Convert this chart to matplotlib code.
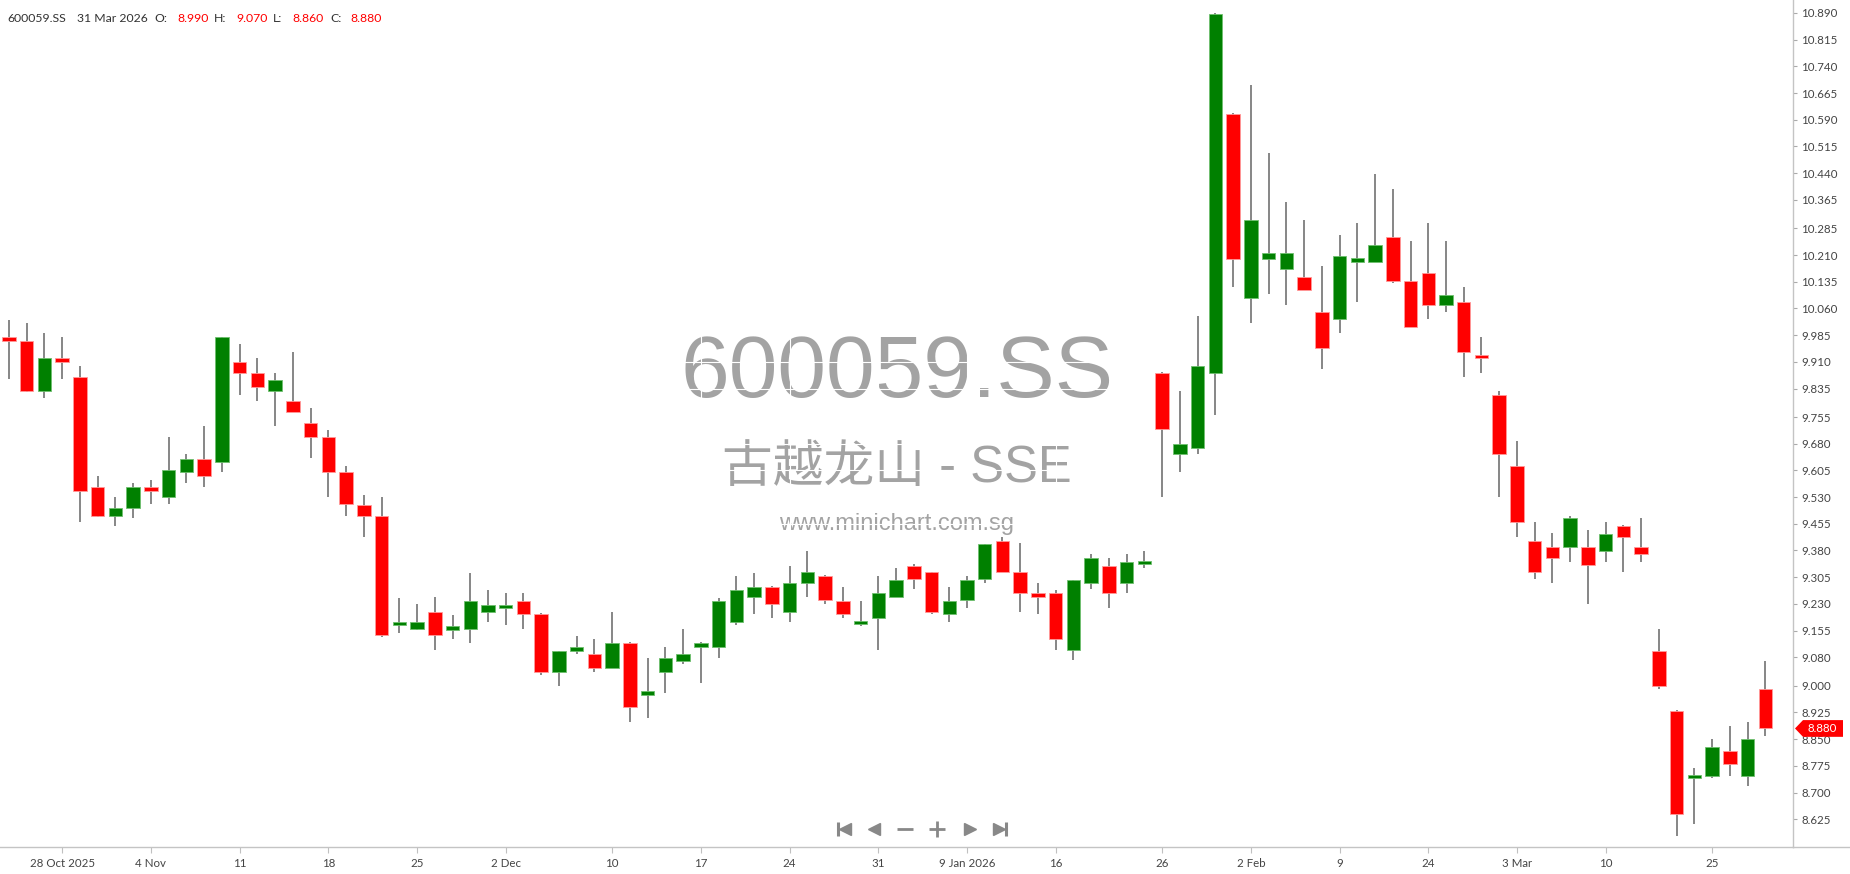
import numpy as np
import matplotlib.pyplot as plt
from matplotlib.lines import Line2D
from matplotlib.patches import Polygon
import matplotlib.transforms as mtransforms

plt.rcParams['font.family'] = ['Lato', 'DejaVu Sans']

# ==== DATA (600059.SS daily candles) ====
opens = [9.980, 9.969, 9.828, 9.921, 9.868, 9.559, 9.477, 9.500, 9.559, 9.530,
         9.601, 9.637, 9.629, 9.910, 9.879, 9.828, 9.800, 9.738, 9.699, 9.601,
         9.508, 9.477, 9.171, 9.160, 9.207, 9.160, 9.160, 9.207, 9.219, 9.238,
         9.202, 9.039, 9.098, 9.089, 9.050, 9.120, 8.978, 9.039, 9.070, 9.109,
         9.109, 9.179, 9.250, 9.278, 9.207, 9.289, 9.309, 9.238, 9.176, 9.191,
         9.250, 9.337, 9.320, 9.202, 9.241, 9.300, 9.407, 9.320, 9.261, 9.261,
         9.101, 9.289, 9.337, 9.289, 9.345, 9.879, 9.651, 9.668, 9.879, 10.606,
         10.089, 10.199, 10.171, 10.148, 10.050, 10.030, 10.194, 10.191, 10.261, 10.137,
         10.160, 10.070, 10.078, 9.930, 9.817, 9.618, 9.407, 9.390, 9.390, 9.390,
         9.379, 9.449, 9.390, 9.098, 8.929, 8.741, 8.747, 8.817, 8.747, 8.990]
highs = [10.028, 10.019, 9.991, 9.980, 9.898, 9.589, 9.530, 9.570, 9.578, 9.699,
         9.651, 9.730, 9.980, 9.960, 9.921, 9.879, 9.938, 9.780, 9.719, 9.618,
         9.536, 9.530, 9.247, 9.230, 9.250, 9.199, 9.317, 9.269, 9.261, 9.261,
         9.205, 9.098, 9.140, 9.132, 9.207, 9.123, 9.078, 9.109, 9.160, 9.123,
         9.247, 9.309, 9.317, 9.280, 9.337, 9.379, 9.312, 9.278, 9.238, 9.309,
         9.331, 9.342, 9.320, 9.278, 9.309, 9.398, 9.418, 9.401, 9.289, 9.269,
         9.297, 9.370, 9.359, 9.370, 9.379, 9.882, 9.828, 10.039, 10.890, 10.609,
         10.688, 10.497, 10.359, 10.309, 10.179, 10.266, 10.300, 10.438, 10.396, 10.250,
         10.300, 10.250, 10.120, 9.980, 9.828, 9.688, 9.460, 9.429, 9.477, 9.438,
         9.460, 9.452, 9.471, 9.160, 8.932, 8.769, 8.851, 8.887, 8.898, 9.070]
lows = [9.862, 9.825, 9.809, 9.862, 9.460, 9.475, 9.449, 9.471, 9.511, 9.511,
        9.570, 9.559, 9.601, 9.817, 9.800, 9.730, 9.769, 9.640, 9.530, 9.477,
        9.418, 9.138, 9.148, 9.158, 9.101, 9.132, 9.120, 9.179, 9.171, 9.160,
        9.030, 8.999, 9.089, 9.039, 9.050, 8.898, 8.910, 8.980, 9.061, 9.008,
        9.078, 9.171, 9.202, 9.191, 9.179, 9.250, 9.230, 9.191, 9.168, 9.101,
        9.250, 9.272, 9.202, 9.179, 9.219, 9.289, 9.320, 9.207, 9.202, 9.101,
        9.073, 9.272, 9.219, 9.261, 9.331, 9.530, 9.601, 9.651, 9.761, 10.120,
        10.019, 10.101, 10.070, 10.112, 9.890, 9.991, 10.078, 10.191, 10.132, 10.008,
        10.030, 10.050, 9.868, 9.879, 9.530, 9.418, 9.300, 9.289, 9.348, 9.230,
        9.348, 9.320, 9.348, 8.991, 8.578, 8.612, 8.741, 8.747, 8.719, 8.860]
closes = [9.968, 9.828, 9.921, 9.910, 9.547, 9.477, 9.500, 9.559, 9.547, 9.606,
          9.637, 9.589, 9.980, 9.879, 9.839, 9.859, 9.769, 9.699, 9.601, 9.511,
          9.477, 9.143, 9.179, 9.179, 9.143, 9.163, 9.238, 9.227, 9.227, 9.202,
          9.039, 9.098, 9.109, 9.050, 9.120, 8.941, 8.980, 9.078, 9.089, 9.120,
          9.238, 9.269, 9.278, 9.230, 9.289, 9.320, 9.241, 9.202, 9.179, 9.261,
          9.297, 9.300, 9.207, 9.238, 9.297, 9.398, 9.320, 9.261, 9.250, 9.132,
          9.297, 9.359, 9.261, 9.348, 9.348, 9.722, 9.679, 9.898, 10.887, 10.199,
          10.309, 10.216, 10.216, 10.112, 9.949, 10.207, 10.199, 10.238, 10.137, 10.008,
          10.070, 10.098, 9.938, 9.921, 9.651, 9.460, 9.320, 9.359, 9.471, 9.339,
          9.426, 9.418, 9.370, 8.999, 8.640, 8.750, 8.828, 8.780, 8.851, 8.880]

date_tick_idx = [3, 8, 13, 18, 23, 28, 34, 39, 44, 49, 54, 59, 65, 70, 75, 80, 85, 90, 96]
date_tick_labels = ['28 Oct 2025', '4 Nov', '11', '18', '25', '2 Dec', '10', '17', '24', '31',
                    '9 Jan 2026', '16', '26', '2 Feb', '9', '24', '3 Mar', '10', '25']

price_labels = ['8.625', '8.700', '8.775', '8.850', '8.925', '9.000', '9.080', '9.155',
                '9.230', '9.305', '9.380', '9.455', '9.530', '9.605', '9.680', '9.755',
                '9.835', '9.910', '9.985', '10.060', '10.135', '10.210', '10.285', '10.365',
                '10.440', '10.515', '10.590', '10.665', '10.740', '10.815', '10.890']

symbol = '600059.SS'
name = '古越龙山 - SSE'
last_date = '31 Mar 2026'

W, H = 1850, 874
fig = plt.figure(figsize=(W / 100, H / 100), dpi=100)
ax = fig.add_axes([0, 27 / H, 1793 / W, 847 / H])

o = np.array(opens)
c = np.array(closes)
x = np.arange(len(o))
up = c >= o
hgt = np.maximum(np.abs(c - o), 0.010)
bot = (o + c) / 2 - hgt / 2

# wicks then bodies
ax.vlines(x, lows, highs, color='#666666', lw=1.1, zorder=2)
ax.bar(x[up], hgt[up], bottom=bot[up], width=0.76, color='#008000',
       edgecolor='#6fbf6f', lw=0.6, zorder=3)
ax.bar(x[~up], hgt[~up], bottom=bot[~up], width=0.76, color='#ff0000',
       edgecolor='#ff9a9a', lw=0.6, zorder=3)

ax.set_xlim(-0.507, 100.56)
ax.set_ylim(8.547, 10.9265)

# axes styling
ax.yaxis.tick_right()
ax.set_yticks([float(p) for p in price_labels], price_labels)
ax.set_xticks(date_tick_idx, date_tick_labels)
ax.tick_params(axis='y', length=3, width=0.8, color='#aaaaaa', labelcolor='#444444',
               labelsize=8.3, pad=3)
ax.tick_params(axis='x', length=4, width=0.8, color='#c0c0c0', labelcolor='#444444',
               labelsize=8.3, pad=4)
for s in ['top', 'left']:
    ax.spines[s].set_visible(False)
for s in ['right', 'bottom']:
    ax.spines[s].set_color('#c4c4c4')
    ax.spines[s].set_linewidth(1)
ax.grid(True, color='white', lw=0.8)
ax.set_axisbelow(True)
fig.add_artist(Line2D([1793 / W, 1], [27 / H, 27 / H], color='#c4c4c4', lw=1))

# watermark (sits under the white grid)
wm = dict(transform=fig.transFigure, ha='center', va='baseline', color='#a3a3a3', zorder=0.2)
ax.text(897 / W, 1 - 397 / H, symbol, fontsize=63, family=['Liberation Sans'], **wm)
ax.text(897 / W, 1 - 482 / H, name, fontsize=36.5,
        family=['Liberation Sans', 'Noto Sans CJK SC'], **wm)
ax.text(897 / W, 1 - 530 / H, 'www.minichart.com.sg', fontsize=17,
        family=['Liberation Sans'], **wm)

# header line
hy = 1 - 19 / H
hdr = [(7, symbol, '#333333'), (77, last_date, '#333333'),
       (154, 'O:', '#333333'), (177, f'{opens[-1]:.3f}', '#ff0000'),
       (214, 'H:', '#333333'), (236, f'{highs[-1]:.3f}', '#ff0000'),
       (273, 'L:', '#333333'), (292, f'{lows[-1]:.3f}', '#ff0000'),
       (330, 'C:', '#333333'), (350, f'{closes[-1]:.3f}', '#ff0000')]
for px, txt, col in hdr:
    fig.text(px / W, hy, txt, fontsize=8.8, color=col, va='center', ha='left')

# last price marker on the right axis
tr = mtransforms.blended_transform_factory(fig.transFigure, ax.transData)
lc = closes[-1]
hh = 0.0235
marker = Polygon([(1795 / W, lc), (1803 / W, lc + hh), (1843 / W, lc + hh),
                  (1843 / W, lc - hh), (1803 / W, lc - hh)],
                 closed=True, transform=tr, facecolor='#ff0000', edgecolor='none',
                 clip_on=False, zorder=5)
ax.add_patch(marker)
ax.text(1822 / W, lc, f'{lc:.3f}', transform=tr, color='white', fontsize=8.3,
        ha='center', va='center', clip_on=False, zorder=6)

# navigation buttons
ny = 1 - 829 / H
nav = dict(color='#888888', transform=fig.transFigure, lw=0)
fig.add_artist(Line2D([838 / W], [ny], marker='|', ms=10, mew=2.2, **nav))
fig.add_artist(Line2D([845 / W], [ny], marker='<', ms=8, **nav))
fig.add_artist(Line2D([874 / W], [ny], marker='<', ms=8, **nav))
fig.add_artist(Line2D([905 / W], [ny], marker='_', ms=12, mew=2, **nav))
fig.add_artist(Line2D([937 / W], [ny], marker='+', ms=12, mew=2, **nav))
fig.add_artist(Line2D([970 / W], [ny], marker='>', ms=8, **nav))
fig.add_artist(Line2D([999 / W], [ny], marker='>', ms=8, **nav))
fig.add_artist(Line2D([1006 / W], [ny], marker='|', ms=10, mew=2.2, **nav))

fig.savefig('out.png', dpi=100)
